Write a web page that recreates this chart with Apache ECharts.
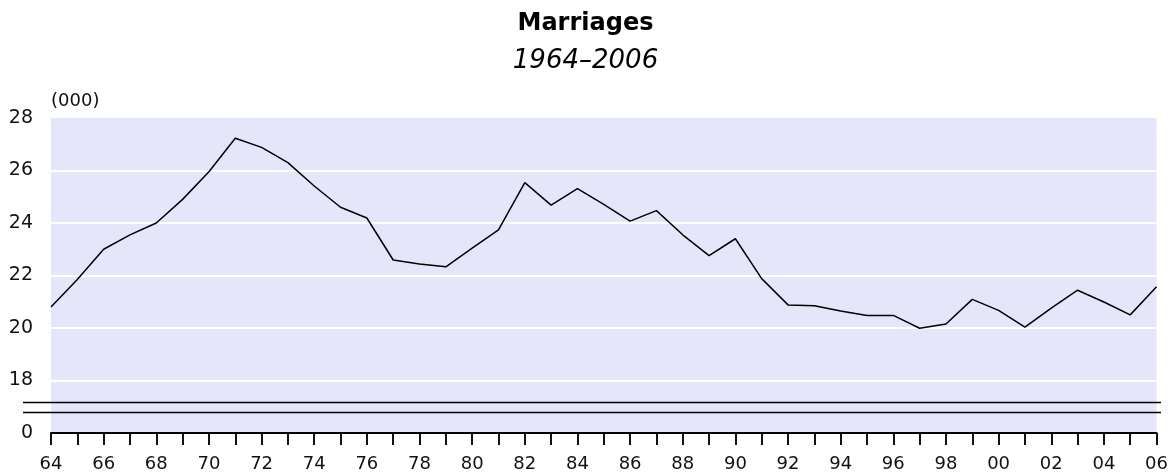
<!DOCTYPE html>
<html>
<head>
<meta charset="utf-8">
<script src="https://cdn.jsdelivr.net/npm/echarts@6/dist/echarts.min.js"></script>
<style>html,body{margin:0;padding:0;background:#fff;}#c{width:1171px;height:475px;}</style>
</head>
<body>
<div id="c"></div>
<script>
// Years 1964..2006 (two-digit labels)
const years = ['64','65','66','67','68','69','70','71','72','73','74','75','76','77','78','79','80','81','82','83','84','85','86','87','88','89','90','91','92','93','94','95','96','97','98','99','00','01','02','03','04','05','06'];
// Marriages, thousands
const marriages = [20.8, 21.85, 23.0, 23.55, 24.0, 24.9, 25.95, 27.23, 26.88, 26.3, 25.41, 24.6, 24.19, 22.59, 22.44, 22.33, 23.04, 23.74, 25.54, 24.68, 25.31, 24.71, 24.07, 24.47, 23.55, 22.76, 23.4, 21.88, 20.88, 20.85, 20.65, 20.48, 20.48, 19.99, 20.15, 21.09, 20.67, 20.03, 20.76, 21.44, 20.99, 20.5, 21.57];
// y axis: broken scale, bottom tick stands for 0
const yMin = 16, yMax = 28, yStep = 2;
const breakMarks = [17.19, 16.81];

const chart = echarts.init(document.getElementById('c'), null, {renderer: 'canvas'});
const font = 'DejaVu Sans';
chart.setOption({
  animation: false,
  title: [
    {text: 'Marriages', left: 'center', top: 12, padding: 0,
     textStyle: {fontFamily: font, fontSize: 24, fontWeight: 'bold', color: '#000', lineHeight: 24}},
    {text: '1964\u20132006', left: 'center', top: 48, padding: 0,
     textStyle: {fontFamily: font, fontSize: 26, fontStyle: 'italic', fontWeight: 'normal', color: '#000', lineHeight: 26}}
  ],
  grid: {left: 51, right: 11, top: 118, bottom: 42, containLabel: false,
         show: true, backgroundColor: '#e6e6fa', borderWidth: 0},
  xAxis: {
    type: 'category', data: years, boundaryGap: false,
    axisLine: {lineStyle: {color: '#000', width: 2}},
    axisTick: {show: true, interval: 0, length: 12, lineStyle: {color: '#111', width: 2}},
    axisLabel: {interval: 1, margin: 22, fontFamily: font, fontSize: 18, color: '#111'},
    splitLine: {show: false}
  },
  yAxis: {
    type: 'value', min: yMin, max: yMax, interval: yStep,
    name: '(000)', nameLocation: 'end', nameGap: 17,
    nameTextStyle: {fontFamily: font, fontSize: 18, color: '#111', align: 'left', verticalAlign: 'middle', padding: 0},
    axisLine: {show: false}, axisTick: {show: false},
    axisLabel: {margin: 18, fontFamily: font, fontSize: 19, color: '#111',
      formatter: v => (v === yMin ? '0' : String(v))},
    splitLine: {show: true, showMinLine: false, showMaxLine: false, lineStyle: {color: '#fff', width: 2}}
  },
  series: [{
    type: 'line', data: marriages, symbol: 'none', silent: true,
    lineStyle: {color: '#000', width: 1.5}
  }]
});

// axis-break marks: two horizontal lines across the broken part of the scale
const gRight = chart.getWidth() - 11;
chart.setOption({
  graphic: breakMarks.map(v => {
    const y = Math.round(chart.convertToPixel({yAxisIndex: 0}, v)) + 0.5;
    return {type: 'line', silent: true, z: 100,
      shape: {x1: 23, y1: y, x2: gRight + 1, y2: y},
      style: {stroke: '#000', lineWidth: 1.5}};
  })
});
</script>
</body>
</html>
